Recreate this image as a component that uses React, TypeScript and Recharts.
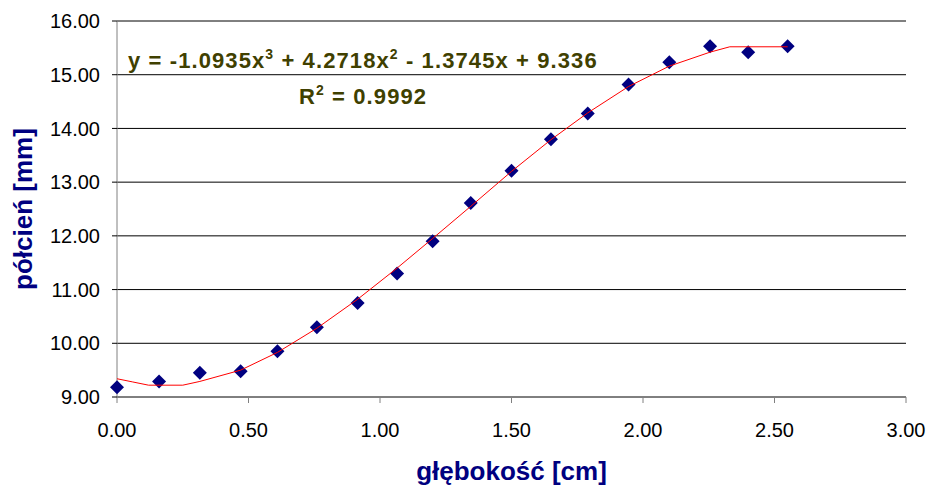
import { ScatterChart, Scatter, XAxis, YAxis, CartesianGrid } from "recharts";

// measured points (depth in cm, penumbra in mm)
const depth = [0.0, 0.16, 0.315, 0.47, 0.61, 0.76, 0.915, 1.065, 1.2, 1.345, 1.5, 1.65, 1.79, 1.945, 2.1, 2.255, 2.4, 2.55];
const penumbra = [9.18, 9.29, 9.45, 9.48, 9.85, 10.3, 10.75, 11.3, 11.9, 12.61, 13.21, 13.8, 14.28, 14.82, 15.23, 15.53, 15.42, 15.53];

// polynomial trendline
const trendX = [0, 0.06, 0.12, 0.25, 0.315, 0.47, 0.61, 0.76, 0.915, 1.065, 1.2, 1.345, 1.5, 1.65, 1.79, 1.945, 2.1, 2.255, 2.33, 2.55];
const trendY = [9.34, 9.28, 9.22, 9.22, 9.29, 9.5, 9.83, 10.28, 10.82, 11.4, 11.95, 12.55, 13.2, 13.79, 14.29, 14.78, 15.16, 15.42, 15.52, 15.52];

const xTicks = [0, 0.5, 1, 1.5, 2, 2.5, 3];
const yTicks = [9, 10, 11, 12, 13, 14, 15, 16];

const points = depth.map((x, i) => ({ x, y: penumbra[i] }));
const trend = trendX.map((x, i) => ({ x, y: trendY[i] }));

const font = "'Liberation Sans', Arial, sans-serif";

const Diamond = (props: any) => {
  const { cx, cy } = props;
  const r = 7;
  return (
    <polygon
      points={`${cx},${cy - r} ${cx + r},${cy} ${cx},${cy + r} ${cx - r},${cy}`}
      fill="#000080"
    />
  );
};

const eqStyle: React.CSSProperties = {
  position: "absolute",
  fontFamily: font,
  fontWeight: "bold",
  fontSize: 22,
  lineHeight: "22px",
  letterSpacing: 1.1,
  color: "#404000",
  whiteSpace: "nowrap",
};

const supStyle: React.CSSProperties = { fontSize: 14, verticalAlign: 9, lineHeight: 0 };

export default function App() {
  return (
    <div style={{ position: "absolute", left: 0, top: 0, width: 932, height: 487, background: "#fff" }}>
      <ScatterChart
        width={932}
        height={487}
        margin={{ top: 21, right: 26, left: 0, bottom: 0 }}
      >
        <CartesianGrid vertical={false} stroke="#000" strokeWidth={1} />
        <XAxis
          type="number"
          dataKey="x"
          domain={[0, 3]}
          ticks={xTicks}
          tickFormatter={(v: number) => v.toFixed(2)}
          height={90}
          stroke="#808080"
          tickSize={6}
          tickMargin={20}
          tick={{ fill: "#000", fontSize: 20, fontFamily: font }}
          label={{
            value: "głębokość [cm]",
            position: "insideBottom",
            offset: 7,
            style: { fill: "#000080", fontSize: 26, fontWeight: "bold", fontFamily: font },
          }}
        />
        <YAxis
          type="number"
          dataKey="y"
          domain={[9, 16]}
          ticks={yTicks}
          tickFormatter={(v: number) => v.toFixed(2)}
          width={117}
          axisLine={{ stroke: "#808080" }}
          tickLine={{ stroke: "#000" }}
          tickSize={5}
          tickMargin={12}
          tick={{ fill: "#000", fontSize: 20, fontFamily: font }}
          label={{
            value: "półcień [mm]",
            angle: -90,
            position: "insideLeft",
            offset: 23,
            style: { fill: "#000080", fontSize: 26, fontWeight: "bold", fontFamily: font, textAnchor: "middle" },
          }}
        />
        <Scatter data={points} shape={Diamond} isAnimationActive={false} />
        <Scatter
          data={trend}
          line={{ stroke: "#ff0000", strokeWidth: 1 }}
          lineType="joint"
          shape={() => <g />}
          isAnimationActive={false}
        />
      </ScatterChart>
      <div style={{ ...eqStyle, left: 128, top: 50 }}>
        y = -1.0935x<sup style={supStyle}>3</sup> + 4.2718x<sup style={supStyle}>2</sup> - 1.3745x + 9.336
      </div>
      <div style={{ ...eqStyle, left: 299, top: 86 }}>
        R<sup style={supStyle}>2</sup> = 0.9992
      </div>
    </div>
  );
}
